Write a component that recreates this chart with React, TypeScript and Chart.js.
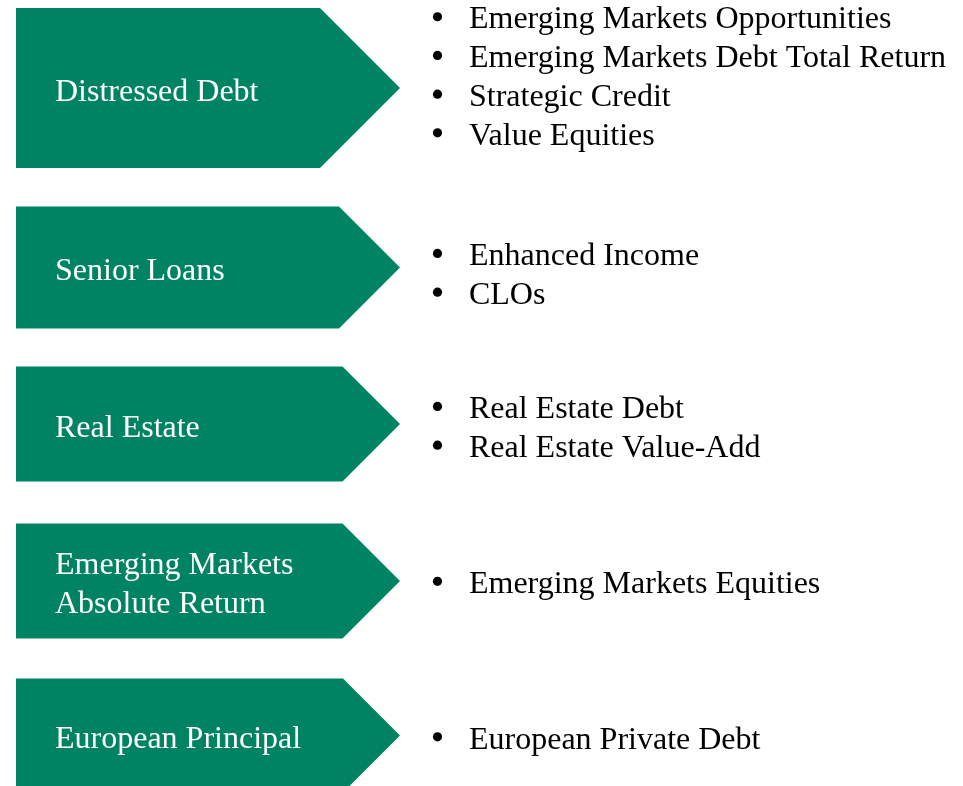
import React, { useEffect, useRef } from "react";
import { Chart, registerables } from "chart.js";

Chart.register(...registerables);

// ---- data ----
const strategies = [
  "Distressed Debt",
  "Senior Loans",
  "Real Estate",
  "Emerging Markets Absolute Return",
  "European Principal",
];
const strategyLabelLines = [
  ["Distressed Debt"],
  ["Senior Loans"],
  ["Real Estate"],
  ["Emerging Markets", "Absolute Return"],
  ["European Principal"],
];
const distressedDebtFunds = [
  "Emerging Markets Opportunities",
  "Emerging Markets Debt Total Return",
  "Strategic Credit",
  "Value Equities",
];
const seniorLoansFunds = ["Enhanced Income", "CLOs"];
const realEstateFunds = ["Real Estate Debt", "Real Estate Value-Add"];
const emergingMarketsFunds = ["Emerging Markets Equities"];
const europeanPrincipalFunds = ["European Private Debt"];
const fundsByStrategy = [
  distressedDebtFunds,
  seniorLoansFunds,
  realEstateFunds,
  emergingMarketsFunds,
  europeanPrincipalFunds,
];

// ---- styles / layout (not data) ----
const GREEN = "rgb(0,131,99)";
const CHEVRON_START = 1.66; // % of width
const CHEVRON_TIP = 41.54; // % of width
const ROW_HEIGHTS = [160, 122, 115, 115, 114];
const ROW_GAPS = [38.5, 38, 42, 40];
const TOP_MARGIN = 8;
const PAGE_H = 786;
const LABEL_INSET = 39;
const BULLET_DOT_X = 45.43;
const BULLET_TEXT_X = 48.7;
const FONT = "32px 'Liberation Serif', 'Times New Roman', serif";
const LINE_H = 38.7;
const LABEL_BASELINE_OFFSET = 12.5;
const BULLET_BASELINE_OFFSET = [-1.5, 17, 13.5, 12, 13];

// stacked layout: each chevron sits below the previous one with a gap
const rowCenters: number[] = [];
{
  let top = TOP_MARGIN;
  ROW_HEIGHTS.forEach((h, i) => {
    rowCenters.push(top + h / 2);
    top += h + (ROW_GAPS[i] ?? 0);
  });
}

const chevronPlugin = {
  id: "chevrons",
  afterDatasetsDraw(chart: any) {
    const ctx = chart.ctx as CanvasRenderingContext2D;
    const xScale = chart.scales.x;
    ctx.save();
    chart.data.datasets.forEach((ds: any, di: number) => {
      const meta = chart.getDatasetMeta(di);
      const el = meta.data[0];
      if (!el) return;
      const { x, y, base, height } = el.getProps(["x", "y", "base", "height"], true);
      const half = height / 2;
      ctx.beginPath();
      ctx.moveTo(base, y - half);
      ctx.lineTo(x - half, y - half);
      ctx.lineTo(x, y);
      ctx.lineTo(x - half, y + half);
      ctx.lineTo(base, y + half);
      ctx.closePath();
      ctx.fillStyle = ds.chevronColor;
      ctx.fill();

      // label
      ctx.font = FONT;
      ctx.textAlign = "left";
      ctx.textBaseline = "alphabetic";
      ctx.fillStyle = "#ffffff";
      const lines = strategyLabelLines[di];
      const first = y + LABEL_BASELINE_OFFSET - ((lines.length - 1) * LINE_H) / 2;
      lines.forEach((t, k) => ctx.fillText(t, base + LABEL_INSET, first + k * LINE_H));

      // bullets
      const items = fundsByStrategy[di];
      const bFirst = y + BULLET_BASELINE_OFFSET[di] - ((items.length - 1) * LINE_H) / 2;
      const dotX = xScale.getPixelForValue(BULLET_DOT_X);
      const textX = xScale.getPixelForValue(BULLET_TEXT_X);
      items.forEach((t, k) => {
        const by = bFirst + k * LINE_H;
        ctx.fillStyle = "#000000";
        ctx.beginPath();
        ctx.arc(dotX, by - 11.7, 4.6, 0, Math.PI * 2);
        ctx.fill();
        ctx.fillText(t, textX, by);
      });
    });
    ctx.restore();
  },
};

export default function App() {
  const ref = useRef<HTMLCanvasElement | null>(null);
  useEffect(() => {
    if (!ref.current) return;
    const chart = new Chart(ref.current, {
      type: "bar",
      data: {
        datasets: strategies.map((s, i) => ({
          label: s,
          data: [{ y: rowCenters[i], x: [CHEVRON_START, CHEVRON_TIP] }],
          backgroundColor: "rgba(0,0,0,0)",
          borderWidth: 0,
          barThickness: ROW_HEIGHTS[i],
          grouped: false,
          chevronColor: GREEN,
        })) as any,
      },
      options: {
        indexAxis: "y",
        animation: false,
        responsive: true,
        maintainAspectRatio: false,
        events: [],
        layout: { padding: 0 },
        scales: {
          x: { type: "linear", min: 0, max: 100, display: false },
          y: { type: "linear", min: 0, max: PAGE_H, reverse: true, display: false, offset: false },
        },
        plugins: {
          legend: { display: false },
          tooltip: { enabled: false },
        },
      } as any,
      plugins: [chevronPlugin],
    });
    return () => chart.destroy();
  }, []);

  return (
    <div
      style={{
        position: "fixed",
        left: 0,
        top: 0,
        width: 963,
        height: PAGE_H,
        overflow: "hidden",
        background: "#ffffff",
      }}
    >
      <div style={{ position: "relative", width: 963, height: PAGE_H }}>
        <canvas ref={ref} />
      </div>
    </div>
  );
}
